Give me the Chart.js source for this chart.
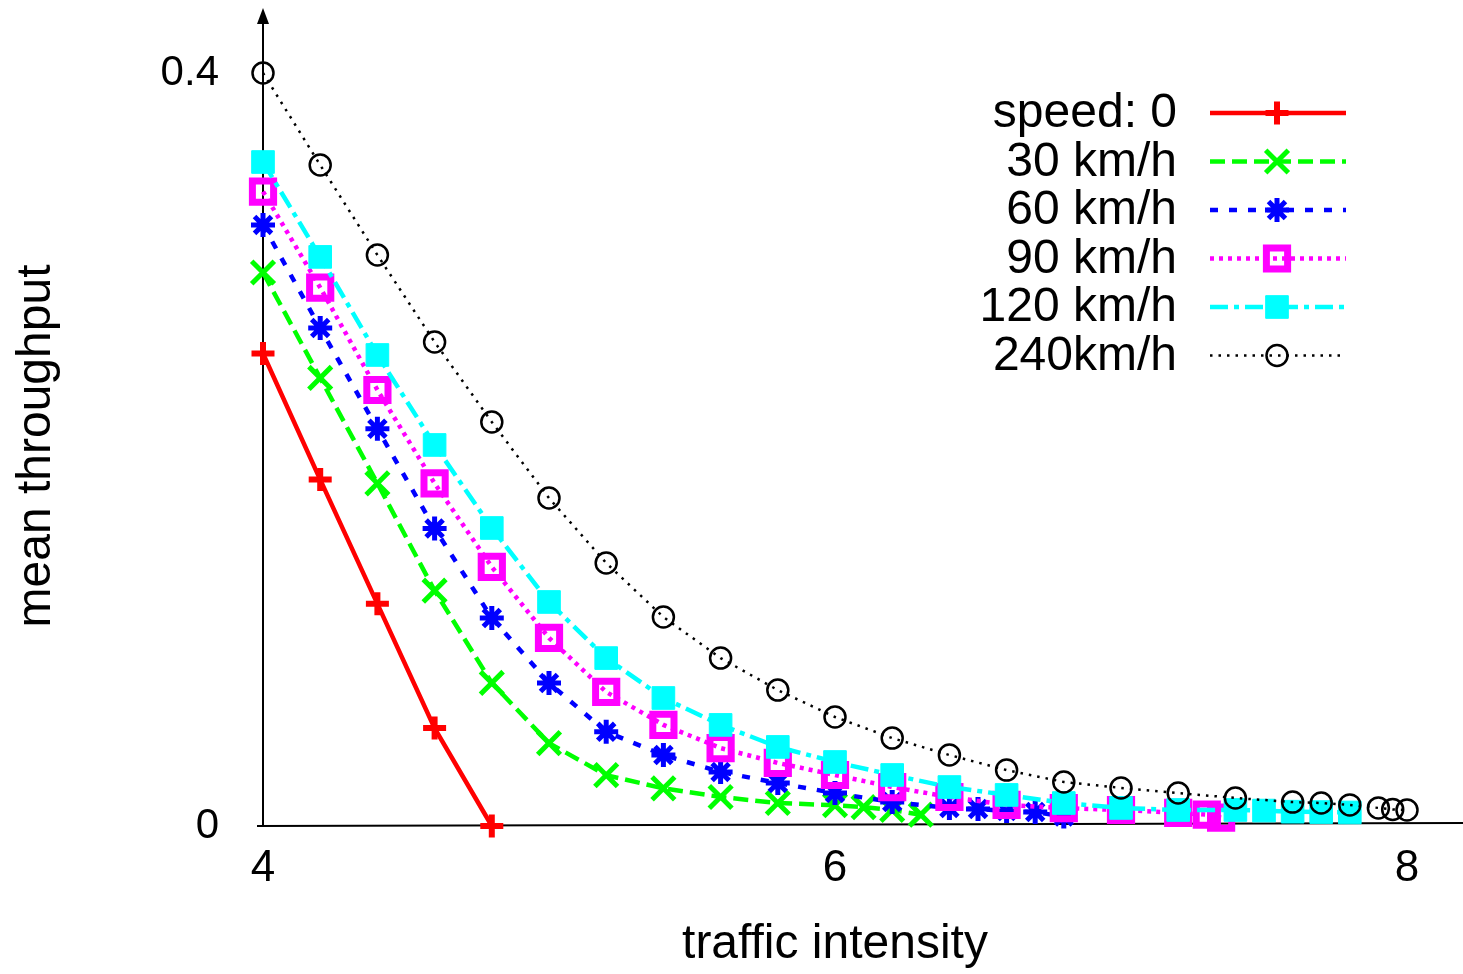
<!DOCTYPE html>
<html><head><meta charset="utf-8">
<script src="https://cdn.jsdelivr.net/npm/chart.js@4.4.1/dist/chart.umd.min.js"></script>
<style>html,body{margin:0;padding:0;background:#fff;}</style>
</head><body>
<canvas id="c" width="1463" height="974"></canvas>
<script>
// ---- data ----
const seriesNames = ['speed: 0', '30 km/h', '60 km/h', '90 km/h', '120 km/h', '240km/h'];
const xTicks = [4, 6, 8];
const yTicks = [0, 0.4];
const xTitle = 'traffic intensity';
const yTitle = 'mean throughput';

const xSpeed0 = [4.0, 4.2, 4.4, 4.6, 4.8];
const ySpeed0 = [0.251, 0.184, 0.118, 0.052, 0.0];

const x30 = [4.0, 4.2, 4.4, 4.6, 4.8, 5.0, 5.2, 5.4, 5.6, 5.8, 6.0, 6.1, 6.2, 6.3];
const y30 = [0.294, 0.238, 0.182, 0.125, 0.076, 0.044, 0.027, 0.020, 0.0154, 0.0122, 0.011, 0.0100, 0.0085, 0.006];

const x60 = [4.0, 4.2, 4.4, 4.6, 4.8, 5.0, 5.2, 5.4, 5.6, 5.8, 6.0, 6.2, 6.4, 6.5, 6.6, 6.7, 6.8];
const y60 = [0.3193, 0.2645, 0.211, 0.158, 0.1105, 0.076, 0.050, 0.0377, 0.0287, 0.0228, 0.0175, 0.0127, 0.0096, 0.009, 0.008, 0.0074, 0.005];

const x90 = [4.0, 4.2, 4.4, 4.6, 4.8, 5.0, 5.2, 5.4, 5.6, 5.8, 6.0, 6.2, 6.4, 6.6, 6.8, 7.0, 7.2, 7.3, 7.35];
const y90 = [0.337, 0.286, 0.2316, 0.182, 0.1376, 0.0999, 0.0712, 0.0537, 0.0414, 0.0335, 0.0271, 0.0207, 0.0154, 0.0112, 0.0095, 0.0085, 0.007, 0.006, 0.0045];

const x120 = [4.0, 4.2, 4.4, 4.6, 4.8, 5.0, 5.2, 5.4, 5.6, 5.8, 6.0, 6.2, 6.4, 6.6, 6.8, 7.0, 7.2, 7.4, 7.5, 7.6, 7.7, 7.8];
const y120 = [0.3527, 0.3023, 0.2502, 0.2024, 0.1583, 0.119, 0.0892, 0.068, 0.0537, 0.042, 0.034, 0.0271, 0.0207, 0.0165, 0.0122, 0.0096, 0.0085, 0.0085, 0.0082, 0.0076, 0.0074, 0.0072];

const x240 = [4.0, 4.2, 4.4, 4.6, 4.8, 5.0, 5.2, 5.4, 5.6, 5.8, 6.0, 6.2, 6.4, 6.6, 6.8, 7.0, 7.2, 7.4, 7.6, 7.7, 7.8, 7.9, 7.95, 8.0];
const y240 = [0.4, 0.3511, 0.3033, 0.2571, 0.2146, 0.1742, 0.1397, 0.111, 0.0892, 0.0722, 0.0579, 0.0467, 0.0377, 0.0297, 0.0234, 0.0202, 0.0175, 0.0149, 0.0127, 0.0122, 0.0112, 0.0096, 0.0088, 0.0085];

// ---- styles ----
const FONT = '"Liberation Sans", Arial, sans-serif';
const styles = [
  {color: '#ff0000', dash: [], width: 4.5, pointStyle: 'cross', radius: 11.5, pbw: 6, fill: '#ff0000'},
  {color: '#00ff00', dash: [15, 7], width: 4.5, pointStyle: 'crossRot', radius: 16, pbw: 5, fill: '#00ff00'},
  {color: '#0000ff', dash: [8, 11], width: 4.5, pointStyle: 'star', radius: 12, pbw: 5, fill: '#0000ff'},
  {color: '#ff00ff', dash: [4, 5], width: 4.5, pointStyle: 'rect', radius: 15, pbw: 7, fill: 'rgba(0,0,0,0)'},
  {color: '#00ffff', dash: [18, 6, 5, 6], width: 4.5, pointStyle: 'rect', radius: 16, pbw: 1, fill: '#00ffff'},
  {color: '#000000', dash: [2.5, 6], width: 2.5, pointStyle: 'circle', radius: 10.5, pbw: 2.5, fill: 'rgba(0,0,0,0)'}
];
const xs = [xSpeed0, x30, x60, x90, x120, x240];
const ys = [ySpeed0, y30, y60, y90, y120, y240];

const datasets = seriesNames.map((name, i) => ({
  label: name,
  data: xs[i].map((x, j) => ({x: x, y: ys[i][j]})),
  borderColor: styles[i].color,
  backgroundColor: styles[i].fill,
  borderWidth: styles[i].width,
  borderDash: styles[i].dash,
  pointStyle: styles[i].pointStyle,
  pointRadius: styles[i].radius,
  pointBorderWidth: styles[i].pbw,
  pointBorderColor: styles[i].color,
  pointBackgroundColor: styles[i].fill,
  pointHoverRadius: styles[i].radius,
  tension: 0,
  fill: false,
  clip: false,
  order: 6 - i
}));

const decor = {
  id: 'decor',
  beforeDatasetsDraw(chart) {
    const {ctx, chartArea: a} = chart;
    ctx.save();
    ctx.strokeStyle = '#000';
    ctx.fillStyle = '#000';
    ctx.lineWidth = 2;
    ctx.setLineDash([]);
    ctx.beginPath();
    ctx.moveTo(257, a.bottom);
    ctx.lineTo(1463, a.bottom - 3);
    ctx.stroke();
    ctx.beginPath();
    ctx.moveTo(a.left, a.bottom);
    ctx.lineTo(a.left, 20);
    ctx.stroke();
    ctx.beginPath();
    ctx.moveTo(a.left, 8);
    ctx.lineTo(a.left - 6, 24);
    ctx.lineTo(a.left + 6, 24);
    ctx.closePath();
    ctx.fill();
    ctx.restore();
  },
  afterDraw(chart) {
    const {ctx} = chart;
    ctx.save();
    ctx.font = '48px ' + FONT;
    ctx.textAlign = 'right';
    ctx.textBaseline = 'middle';
    seriesNames.forEach((name, i) => {
      const y = 113 + i * 48.5;
      const s = styles[i];
      ctx.fillStyle = '#000';
      ctx.fillText(name, 1177, y + 1);
      ctx.strokeStyle = s.color;
      ctx.lineWidth = s.width;
      ctx.setLineDash(s.dash);
      ctx.beginPath();
      ctx.moveTo(1210, y);
      ctx.lineTo(1346, y);
      ctx.stroke();
      ctx.setLineDash([]);
      ctx.strokeStyle = s.color;
      ctx.fillStyle = s.fill;
      ctx.lineWidth = s.pbw;
      Chart.helpers.drawPoint(ctx, {pointStyle: s.pointStyle, radius: s.radius, borderWidth: s.pbw, rotation: 0}, 1277, y);
    });
    ctx.restore();
  }
};

new Chart(document.getElementById('c'), {
  type: 'line',
  data: {datasets: datasets},
  options: {
    responsive: false,
    devicePixelRatio: 1,
    animation: false,
    events: [],
    layout: {padding: {left: 0, right: 56, top: 66, bottom: 0}},
    plugins: {legend: {display: false}, tooltip: {enabled: false}},
    scales: {
      x: {
        type: 'linear',
        min: 4, max: 8,
        afterBuildTicks: s => { s.ticks = xTicks.map(v => ({value: v})); },
        afterFit: s => { s.height = 148; },
        grid: {display: false},
        border: {display: false},
        ticks: {color: '#000', font: {family: FONT, size: 44}, padding: 8, maxRotation: 0,
                callback: v => String(v)},
        title: {display: true, text: xTitle, color: '#000', font: {family: FONT, size: 48}, padding: {top: 0, bottom: 0}}
      },
      y: {
        type: 'linear',
        min: 0, max: 0.4037,
        afterBuildTicks: s => { s.ticks = yTicks.map(v => ({value: v})); },
        afterFit: s => { s.width = 263; },
        grid: {display: false},
        border: {display: false},
        ticks: {color: '#000', font: {family: FONT, size: 42}, padding: 36,
                callback: v => String(v)},
        title: {display: true, text: yTitle, color: '#000', font: {family: FONT, size: 48}, padding: {top: 8, bottom: 0}}
      }
    }
  },
  plugins: [decor]
});
</script>
</body></html>
